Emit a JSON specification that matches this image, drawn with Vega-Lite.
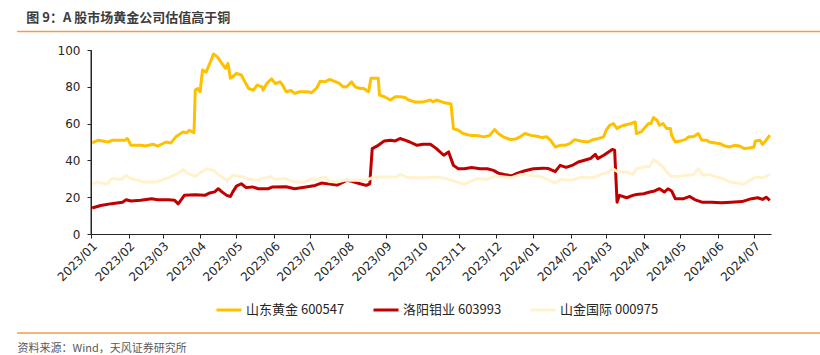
{
  "$schema": "https://vega.github.io/schema/vega-lite/v6.json",
  "width": 680,
  "height": 184,
  "autosize": {"type": "none"},
  "padding": {"left": 91, "top": 50, "right": 49, "bottom": 121},
  "background": "white",
  "title": {
    "text": "图 9：A 股市场黄金公司估值高于铜",
    "anchor": "start",
    "frame": "bounds",
    "dx": 10,
    "offset": 6,
    "font": "Noto Sans CJK SC",
    "fontSize": 13,
    "fontWeight": "bold",
    "color": "#3c3c3c"
  },
  "config": {
    "view": {"stroke": null},
    "axis": {"grid": false},
    "axisY": {"domain": true, "ticks": true, "domainColor": "#262626", "tickColor": "#262626", "domainWidth": 1, "tickWidth": 1, "domainOpacity": 1, "tickOpacity": 1, "zindex": 1}
  },
  "resolve": {
    "scale": {"x": "independent", "y": "independent"},
    "axis": {"x": "independent", "y": "independent"}
  },
  "layer": [
    {
      "data": {
        "values": [
          {"d":"2023-01-02","s":"山东黄金 600547","v":49.5},
          {"d":"2023-01-07","s":"山东黄金 600547","v":51},
          {"d":"2023-01-15","s":"山东黄金 600547","v":50},
          {"d":"2023-01-19","s":"山东黄金 600547","v":51},
          {"d":"2023-01-29","s":"山东黄金 600547","v":51},
          {"d":"2023-01-31","s":"山东黄金 600547","v":51.9},
          {"d":"2023-02-03","s":"山东黄金 600547","v":48.2},
          {"d":"2023-02-11","s":"山东黄金 600547","v":48.2},
          {"d":"2023-02-15","s":"山东黄金 600547","v":47.8},
          {"d":"2023-02-21","s":"山东黄金 600547","v":48.8},
          {"d":"2023-02-25","s":"山东黄金 600547","v":47.8},
          {"d":"2023-03-04","s":"山东黄金 600547","v":50},
          {"d":"2023-03-08","s":"山东黄金 600547","v":49.5},
          {"d":"2023-03-12","s":"山东黄金 600547","v":52.8},
          {"d":"2023-03-18","s":"山东黄金 600547","v":55.5},
          {"d":"2023-03-21","s":"山东黄金 600547","v":55},
          {"d":"2023-03-23","s":"山东黄金 600547","v":56.4},
          {"d":"2023-03-27","s":"山东黄金 600547","v":55},
          {"d":"2023-03-28","s":"山东黄金 600547","v":78.2},
          {"d":"2023-03-30","s":"山东黄金 600547","v":79},
          {"d":"2023-04-01","s":"山东黄金 600547","v":77.3},
          {"d":"2023-04-03","s":"山东黄金 600547","v":89.1},
          {"d":"2023-04-06","s":"山东黄金 600547","v":88},
          {"d":"2023-04-09","s":"山东黄金 600547","v":92.7},
          {"d":"2023-04-12","s":"山东黄金 600547","v":97.8},
          {"d":"2023-04-15","s":"山东黄金 600547","v":96.4},
          {"d":"2023-04-20","s":"山东黄金 600547","v":91.8},
          {"d":"2023-04-22","s":"山东黄金 600547","v":90},
          {"d":"2023-04-24","s":"山东黄金 600547","v":92.7},
          {"d":"2023-04-26","s":"山东黄金 600547","v":84.6},
          {"d":"2023-04-28","s":"山东黄金 600547","v":85.5},
          {"d":"2023-05-01","s":"山东黄金 600547","v":87.3},
          {"d":"2023-05-05","s":"山东黄金 600547","v":86.4},
          {"d":"2023-05-08","s":"山东黄金 600547","v":82.7},
          {"d":"2023-05-11","s":"山东黄金 600547","v":79.1},
          {"d":"2023-05-15","s":"山东黄金 600547","v":78.2},
          {"d":"2023-05-18","s":"山东黄金 600547","v":80.9},
          {"d":"2023-05-22","s":"山东黄金 600547","v":80},
          {"d":"2023-05-23","s":"山东黄金 600547","v":78.2},
          {"d":"2023-05-26","s":"山东黄金 600547","v":81.8},
          {"d":"2023-05-30","s":"山东黄金 600547","v":84.3},
          {"d":"2023-06-02","s":"山东黄金 600547","v":81.8},
          {"d":"2023-06-06","s":"山东黄金 600547","v":82.7},
          {"d":"2023-06-08","s":"山东黄金 600547","v":81},
          {"d":"2023-06-11","s":"山东黄金 600547","v":77.3},
          {"d":"2023-06-15","s":"山东黄金 600547","v":78},
          {"d":"2023-06-18","s":"山东黄金 600547","v":76.4},
          {"d":"2023-06-22","s":"山东黄金 600547","v":77.3},
          {"d":"2023-06-29","s":"山东黄金 600547","v":77.3},
          {"d":"2023-07-02","s":"山东黄金 600547","v":76.8},
          {"d":"2023-07-06","s":"山东黄金 600547","v":79.1},
          {"d":"2023-07-09","s":"山东黄金 600547","v":83},
          {"d":"2023-07-13","s":"山东黄金 600547","v":82.7},
          {"d":"2023-07-17","s":"山东黄金 600547","v":84},
          {"d":"2023-07-21","s":"山东黄金 600547","v":83},
          {"d":"2023-07-25","s":"山东黄金 600547","v":81.8},
          {"d":"2023-07-28","s":"山东黄金 600547","v":80},
          {"d":"2023-07-31","s":"山东黄金 600547","v":80},
          {"d":"2023-08-04","s":"山东黄金 600547","v":82.7},
          {"d":"2023-08-07","s":"山东黄金 600547","v":80},
          {"d":"2023-08-11","s":"山东黄金 600547","v":79.1},
          {"d":"2023-08-14","s":"山东黄金 600547","v":79.1},
          {"d":"2023-08-18","s":"山东黄金 600547","v":77.3},
          {"d":"2023-08-20","s":"山东黄金 600547","v":84.6},
          {"d":"2023-08-26","s":"山东黄金 600547","v":84.6},
          {"d":"2023-08-27","s":"山东黄金 600547","v":75.5},
          {"d":"2023-08-31","s":"山东黄金 600547","v":74.6},
          {"d":"2023-09-05","s":"山东黄金 600547","v":72.8},
          {"d":"2023-09-09","s":"山东黄金 600547","v":74.6},
          {"d":"2023-09-13","s":"山东黄金 600547","v":74.6},
          {"d":"2023-09-17","s":"山东黄金 600547","v":74.2},
          {"d":"2023-09-20","s":"山东黄金 600547","v":72.8},
          {"d":"2023-09-25","s":"山东黄金 600547","v":71.8},
          {"d":"2023-10-02","s":"山东黄金 600547","v":71.8},
          {"d":"2023-10-08","s":"山东黄金 600547","v":72.8},
          {"d":"2023-10-10","s":"山东黄金 600547","v":71.8},
          {"d":"2023-10-13","s":"山东黄金 600547","v":72.8},
          {"d":"2023-10-20","s":"山东黄金 600547","v":71.3},
          {"d":"2023-10-25","s":"山东黄金 600547","v":70.7},
          {"d":"2023-10-27","s":"山东黄金 600547","v":57.3},
          {"d":"2023-10-31","s":"山东黄金 600547","v":56.4},
          {"d":"2023-11-04","s":"山东黄金 600547","v":54.6},
          {"d":"2023-11-10","s":"山东黄金 600547","v":53.6},
          {"d":"2023-11-15","s":"山东黄金 600547","v":53.6},
          {"d":"2023-11-21","s":"山东黄金 600547","v":52.8},
          {"d":"2023-11-26","s":"山东黄金 600547","v":53.6},
          {"d":"2023-11-30","s":"山东黄金 600547","v":56.8},
          {"d":"2023-12-03","s":"山东黄金 600547","v":54.6},
          {"d":"2023-12-07","s":"山东黄金 600547","v":52.8},
          {"d":"2023-12-13","s":"山东黄金 600547","v":51.3},
          {"d":"2023-12-18","s":"山东黄金 600547","v":51.8},
          {"d":"2023-12-21","s":"山东黄金 600547","v":52.8},
          {"d":"2023-12-25","s":"山东黄金 600547","v":54.6},
          {"d":"2023-12-30","s":"山东黄金 600547","v":53.6},
          {"d":"2024-01-04","s":"山东黄金 600547","v":53.1},
          {"d":"2024-01-08","s":"山东黄金 600547","v":52.4},
          {"d":"2024-01-12","s":"山东黄金 600547","v":52.8},
          {"d":"2024-01-15","s":"山东黄金 600547","v":51},
          {"d":"2024-01-19","s":"山东黄金 600547","v":47.3},
          {"d":"2024-01-23","s":"山东黄金 600547","v":48.2},
          {"d":"2024-01-27","s":"山东黄金 600547","v":48.2},
          {"d":"2024-01-31","s":"山东黄金 600547","v":49.1},
          {"d":"2024-02-04","s":"山东黄金 600547","v":51.3},
          {"d":"2024-02-10","s":"山东黄金 600547","v":50.4},
          {"d":"2024-02-15","s":"山东黄金 600547","v":50},
          {"d":"2024-02-19","s":"山东黄金 600547","v":51.3},
          {"d":"2024-02-23","s":"山东黄金 600547","v":51.8},
          {"d":"2024-02-28","s":"山东黄金 600547","v":52.8},
          {"d":"2024-03-01","s":"山东黄金 600547","v":56.4},
          {"d":"2024-03-04","s":"山东黄金 600547","v":59.1},
          {"d":"2024-03-07","s":"山东黄金 600547","v":60},
          {"d":"2024-03-10","s":"山东黄金 600547","v":57.3},
          {"d":"2024-03-12","s":"山东黄金 600547","v":58.2},
          {"d":"2024-03-16","s":"山东黄金 600547","v":59.1},
          {"d":"2024-03-21","s":"山东黄金 600547","v":60},
          {"d":"2024-03-25","s":"山东黄金 600547","v":60.9},
          {"d":"2024-03-26","s":"山东黄金 600547","v":54.6},
          {"d":"2024-03-30","s":"山东黄金 600547","v":55.5},
          {"d":"2024-04-02","s":"山东黄金 600547","v":57.9},
          {"d":"2024-04-05","s":"山东黄金 600547","v":60.1},
          {"d":"2024-04-07","s":"山东黄金 600547","v":60.1},
          {"d":"2024-04-09","s":"山东黄金 600547","v":63.3},
          {"d":"2024-04-12","s":"山东黄金 600547","v":61.8},
          {"d":"2024-04-14","s":"山东黄金 600547","v":59.1},
          {"d":"2024-04-17","s":"山东黄金 600547","v":60},
          {"d":"2024-04-20","s":"山东黄金 600547","v":57.3},
          {"d":"2024-04-23","s":"山东黄金 600547","v":57.3},
          {"d":"2024-04-24","s":"山东黄金 600547","v":53.7},
          {"d":"2024-04-27","s":"山东黄金 600547","v":50},
          {"d":"2024-05-01","s":"山东黄金 600547","v":50.5},
          {"d":"2024-05-05","s":"山东黄金 600547","v":51.3},
          {"d":"2024-05-08","s":"山东黄金 600547","v":52.8},
          {"d":"2024-05-12","s":"山东黄金 600547","v":52.8},
          {"d":"2024-05-16","s":"山东黄金 600547","v":54.6},
          {"d":"2024-05-19","s":"山东黄金 600547","v":51},
          {"d":"2024-05-23","s":"山东黄金 600547","v":51},
          {"d":"2024-05-25","s":"山东黄金 600547","v":50},
          {"d":"2024-05-30","s":"山东黄金 600547","v":49.5},
          {"d":"2024-06-03","s":"山东黄金 600547","v":49.1},
          {"d":"2024-06-07","s":"山东黄金 600547","v":47.8},
          {"d":"2024-06-11","s":"山东黄金 600547","v":47.3},
          {"d":"2024-06-15","s":"山东黄金 600547","v":48.2},
          {"d":"2024-06-19","s":"山东黄金 600547","v":47.8},
          {"d":"2024-06-23","s":"山东黄金 600547","v":46.4},
          {"d":"2024-06-28","s":"山东黄金 600547","v":46.9},
          {"d":"2024-07-01","s":"山东黄金 600547","v":47.3},
          {"d":"2024-07-02","s":"山东黄金 600547","v":50.6},
          {"d":"2024-07-06","s":"山东黄金 600547","v":51},
          {"d":"2024-07-08","s":"山东黄金 600547","v":48.7},
          {"d":"2024-07-11","s":"山东黄金 600547","v":51},
          {"d":"2024-07-14","s":"山东黄金 600547","v":53.7},

          {"d":"2023-01-02","s":"洛阳钼业 603993","v":14.1},
          {"d":"2023-01-09","s":"洛阳钼业 603993","v":15.5},
          {"d":"2023-01-18","s":"洛阳钼业 603993","v":16.5},
          {"d":"2023-01-27","s":"洛阳钼业 603993","v":17.3},
          {"d":"2023-01-30","s":"洛阳钼业 603993","v":18.6},
          {"d":"2023-02-03","s":"洛阳钼业 603993","v":17.9},
          {"d":"2023-02-11","s":"洛阳钼业 603993","v":18.3},
          {"d":"2023-02-20","s":"洛阳钼业 603993","v":19.2},
          {"d":"2023-02-25","s":"洛阳钼业 603993","v":18.6},
          {"d":"2023-03-06","s":"洛阳钼业 603993","v":18.6},
          {"d":"2023-03-11","s":"洛阳钼业 603993","v":18.3},
          {"d":"2023-03-14","s":"洛阳钼业 603993","v":16.4},
          {"d":"2023-03-19","s":"洛阳钼业 603993","v":21},
          {"d":"2023-03-28","s":"洛阳钼业 603993","v":21.3},
          {"d":"2023-04-05","s":"洛阳钼业 603993","v":21},
          {"d":"2023-04-09","s":"洛阳钼业 603993","v":22.3},
          {"d":"2023-04-13","s":"洛阳钼业 603993","v":22.9},
          {"d":"2023-04-16","s":"洛阳钼业 603993","v":24.6},
          {"d":"2023-04-19","s":"洛阳钼业 603993","v":22.9},
          {"d":"2023-04-23","s":"洛阳钼业 603993","v":21},
          {"d":"2023-04-26","s":"洛阳钼业 603993","v":20.4},
          {"d":"2023-04-28","s":"洛阳钼业 603993","v":22.9},
          {"d":"2023-05-01","s":"洛阳钼业 603993","v":26},
          {"d":"2023-05-05","s":"洛阳钼业 603993","v":27.3},
          {"d":"2023-05-09","s":"洛阳钼业 603993","v":25.2},
          {"d":"2023-05-14","s":"洛阳钼业 603993","v":25.6},
          {"d":"2023-05-19","s":"洛阳钼业 603993","v":24.6},
          {"d":"2023-05-27","s":"洛阳钼业 603993","v":24.6},
          {"d":"2023-05-31","s":"洛阳钼业 603993","v":25.6},
          {"d":"2023-06-11","s":"洛阳钼业 603993","v":25.7},
          {"d":"2023-06-18","s":"洛阳钼业 603993","v":24.6},
          {"d":"2023-06-26","s":"洛阳钼业 603993","v":25.4},
          {"d":"2023-07-05","s":"洛阳钼业 603993","v":26.4},
          {"d":"2023-07-10","s":"洛阳钼业 603993","v":27.7},
          {"d":"2023-07-17","s":"洛阳钼业 603993","v":27.1},
          {"d":"2023-07-23","s":"洛阳钼业 603993","v":26.6},
          {"d":"2023-07-28","s":"洛阳钼业 603993","v":28.2},
          {"d":"2023-07-31","s":"洛阳钼业 603993","v":29.2},
          {"d":"2023-08-04","s":"洛阳钼业 603993","v":28.7},
          {"d":"2023-08-11","s":"洛阳钼业 603993","v":27.3},
          {"d":"2023-08-16","s":"洛阳钼业 603993","v":26.4},
          {"d":"2023-08-19","s":"洛阳钼业 603993","v":27.3},
          {"d":"2023-08-21","s":"洛阳钼业 603993","v":46.4},
          {"d":"2023-08-26","s":"洛阳钼业 603993","v":48.2},
          {"d":"2023-08-31","s":"洛阳钼业 603993","v":50.6},
          {"d":"2023-09-05","s":"洛阳钼业 603993","v":51},
          {"d":"2023-09-09","s":"洛阳钼业 603993","v":50.6},
          {"d":"2023-09-13","s":"洛阳钼业 603993","v":51.9},
          {"d":"2023-09-17","s":"洛阳钼业 603993","v":51},
          {"d":"2023-09-21","s":"洛阳钼业 603993","v":50},
          {"d":"2023-09-27","s":"洛阳钼业 603993","v":48.2},
          {"d":"2023-10-02","s":"洛阳钼业 603993","v":48.8},
          {"d":"2023-10-08","s":"洛阳钼业 603993","v":48.8},
          {"d":"2023-10-13","s":"洛阳钼业 603993","v":46.4},
          {"d":"2023-10-19","s":"洛阳钼业 603993","v":42.8},
          {"d":"2023-10-23","s":"洛阳钼业 603993","v":44.6},
          {"d":"2023-10-27","s":"洛阳钼业 603993","v":37.3},
          {"d":"2023-10-31","s":"洛阳钼业 603993","v":35.5},
          {"d":"2023-11-05","s":"洛阳钼业 603993","v":35.5},
          {"d":"2023-11-11","s":"洛阳钼业 603993","v":36.1},
          {"d":"2023-11-18","s":"洛阳钼业 603993","v":35.5},
          {"d":"2023-11-24","s":"洛阳钼业 603993","v":35.5},
          {"d":"2023-11-29","s":"洛阳钼业 603993","v":34.6},
          {"d":"2023-12-03","s":"洛阳钼业 603993","v":33.1},
          {"d":"2023-12-08","s":"洛阳钼业 603993","v":32.3},
          {"d":"2023-12-14","s":"洛阳钼业 603993","v":31.6},
          {"d":"2023-12-19","s":"洛阳钼业 603993","v":33.1},
          {"d":"2023-12-25","s":"洛阳钼业 603993","v":34.4},
          {"d":"2024-01-01","s":"洛阳钼业 603993","v":35.5},
          {"d":"2024-01-09","s":"洛阳钼业 603993","v":35.8},
          {"d":"2024-01-13","s":"洛阳钼业 603993","v":35.6},
          {"d":"2024-01-19","s":"洛阳钼业 603993","v":33.9},
          {"d":"2024-01-23","s":"洛阳钼业 603993","v":37.3},
          {"d":"2024-01-28","s":"洛阳钼业 603993","v":36.2},
          {"d":"2024-02-03","s":"洛阳钼业 603993","v":37.6},
          {"d":"2024-02-07","s":"洛阳钼业 603993","v":39.1},
          {"d":"2024-02-10","s":"洛阳钼业 603993","v":39.7},
          {"d":"2024-02-17","s":"洛阳钼业 603993","v":41},
          {"d":"2024-02-21","s":"洛阳钼业 603993","v":43.3},
          {"d":"2024-02-23","s":"洛阳钼业 603993","v":41},
          {"d":"2024-02-28","s":"洛阳钼业 603993","v":42.8},
          {"d":"2024-03-03","s":"洛阳钼业 603993","v":44.6},
          {"d":"2024-03-06","s":"洛阳钼业 603993","v":45.9},
          {"d":"2024-03-08","s":"洛阳钼业 603993","v":45.5},
          {"d":"2024-03-10","s":"洛阳钼业 603993","v":17.3},
          {"d":"2024-03-12","s":"洛阳钼业 603993","v":21},
          {"d":"2024-03-18","s":"洛阳钼业 603993","v":19.7},
          {"d":"2024-03-23","s":"洛阳钼业 603993","v":21},
          {"d":"2024-03-26","s":"洛阳钼业 603993","v":21.5},
          {"d":"2024-04-01","s":"洛阳钼业 603993","v":21.9},
          {"d":"2024-04-06","s":"洛阳钼业 603993","v":22.8},
          {"d":"2024-04-10","s":"洛阳钼业 603993","v":23.4},
          {"d":"2024-04-14","s":"洛阳钼业 603993","v":24.6},
          {"d":"2024-04-18","s":"洛阳钼业 603993","v":22.8},
          {"d":"2024-04-21","s":"洛阳钼业 603993","v":24.6},
          {"d":"2024-04-24","s":"洛阳钼业 603993","v":23.4},
          {"d":"2024-04-27","s":"洛阳钼业 603993","v":19.2},
          {"d":"2024-05-04","s":"洛阳钼业 603993","v":19.2},
          {"d":"2024-05-09","s":"洛阳钼业 603993","v":20.4},
          {"d":"2024-05-13","s":"洛阳钼业 603993","v":18.7},
          {"d":"2024-05-19","s":"洛阳钼业 603993","v":17.3},
          {"d":"2024-05-27","s":"洛阳钼业 603993","v":17.3},
          {"d":"2024-06-04","s":"洛阳钼业 603993","v":17},
          {"d":"2024-06-12","s":"洛阳钼业 603993","v":17.3},
          {"d":"2024-06-21","s":"洛阳钼业 603993","v":17.6},
          {"d":"2024-06-29","s":"洛阳钼业 603993","v":19.2},
          {"d":"2024-07-04","s":"洛阳钼业 603993","v":19.7},
          {"d":"2024-07-08","s":"洛阳钼业 603993","v":18.8},
          {"d":"2024-07-11","s":"洛阳钼业 603993","v":20},
          {"d":"2024-07-14","s":"洛阳钼业 603993","v":18.3},

          {"d":"2023-01-02","s":"山金国际 000975","v":27.3},
          {"d":"2023-01-07","s":"山金国际 000975","v":28.2},
          {"d":"2023-01-14","s":"山金国际 000975","v":27},
          {"d":"2023-01-18","s":"山金国际 000975","v":30.1},
          {"d":"2023-01-26","s":"山金国际 000975","v":29.6},
          {"d":"2023-01-30","s":"山金国际 000975","v":31.9},
          {"d":"2023-02-03","s":"山金国际 000975","v":30.1},
          {"d":"2023-02-09","s":"山金国际 000975","v":29.2},
          {"d":"2023-02-14","s":"山金国际 000975","v":28.2},
          {"d":"2023-02-23","s":"山金国际 000975","v":28.2},
          {"d":"2023-02-28","s":"山金国际 000975","v":29.2},
          {"d":"2023-03-06","s":"山金国际 000975","v":30.6},
          {"d":"2023-03-10","s":"山金国际 000975","v":31.9},
          {"d":"2023-03-14","s":"山金国际 000975","v":32.8},
          {"d":"2023-03-18","s":"山金国际 000975","v":35},
          {"d":"2023-03-22","s":"山金国际 000975","v":32.8},
          {"d":"2023-03-28","s":"山金国际 000975","v":31.3},
          {"d":"2023-04-02","s":"山金国际 000975","v":33.7},
          {"d":"2023-04-07","s":"山金国际 000975","v":35.5},
          {"d":"2023-04-12","s":"山金国际 000975","v":34.6},
          {"d":"2023-04-17","s":"山金国际 000975","v":31.9},
          {"d":"2023-04-23","s":"山金国际 000975","v":29.2},
          {"d":"2023-04-28","s":"山金国际 000975","v":31.9},
          {"d":"2023-05-05","s":"山金国际 000975","v":31.3},
          {"d":"2023-05-12","s":"山金国际 000975","v":29.6},
          {"d":"2023-05-18","s":"山金国际 000975","v":29.2},
          {"d":"2023-05-22","s":"山金国际 000975","v":30.1},
          {"d":"2023-05-29","s":"山金国际 000975","v":31.2},
          {"d":"2023-06-02","s":"山金国际 000975","v":29.6},
          {"d":"2023-06-10","s":"山金国际 000975","v":30.1},
          {"d":"2023-06-18","s":"山金国际 000975","v":28.2},
          {"d":"2023-06-26","s":"山金国际 000975","v":28},
          {"d":"2023-07-02","s":"山金国际 000975","v":30.1},
          {"d":"2023-07-06","s":"山金国际 000975","v":29.5},
          {"d":"2023-07-13","s":"山金国际 000975","v":31},
          {"d":"2023-07-17","s":"山金国际 000975","v":28.5},
          {"d":"2023-07-23","s":"山金国际 000975","v":28.2},
          {"d":"2023-07-29","s":"山金国际 000975","v":29.2},
          {"d":"2023-08-07","s":"山金国际 000975","v":29.2},
          {"d":"2023-08-16","s":"山金国际 000975","v":29.2},
          {"d":"2023-08-23","s":"山金国际 000975","v":31},
          {"d":"2023-09-05","s":"山金国际 000975","v":31},
          {"d":"2023-09-10","s":"山金国际 000975","v":31},
          {"d":"2023-09-13","s":"山金国际 000975","v":32.4},
          {"d":"2023-09-18","s":"山金国际 000975","v":31},
          {"d":"2023-09-27","s":"山金国际 000975","v":30.6},
          {"d":"2023-10-05","s":"山金国际 000975","v":30.6},
          {"d":"2023-10-13","s":"山金国际 000975","v":31},
          {"d":"2023-10-21","s":"山金国际 000975","v":30.1},
          {"d":"2023-10-30","s":"山金国际 000975","v":28.2},
          {"d":"2023-11-05","s":"山金国际 000975","v":27},
          {"d":"2023-11-11","s":"山金国际 000975","v":28.9},
          {"d":"2023-11-16","s":"山金国际 000975","v":30.1},
          {"d":"2023-11-23","s":"山金国际 000975","v":29.6},
          {"d":"2023-11-30","s":"山金国际 000975","v":31.2},
          {"d":"2023-12-07","s":"山金国际 000975","v":31},
          {"d":"2023-12-14","s":"山金国际 000975","v":30.6},
          {"d":"2023-12-22","s":"山金国际 000975","v":32.4},
          {"d":"2023-12-30","s":"山金国际 000975","v":31.9},
          {"d":"2024-01-08","s":"山金国际 000975","v":31},
          {"d":"2024-01-13","s":"山金国际 000975","v":29.6},
          {"d":"2024-01-19","s":"山金国际 000975","v":27.7},
          {"d":"2024-01-23","s":"山金国际 000975","v":29.6},
          {"d":"2024-02-01","s":"山金国际 000975","v":29.2},
          {"d":"2024-02-10","s":"山金国际 000975","v":31},
          {"d":"2024-02-18","s":"山金国际 000975","v":30.6},
          {"d":"2024-02-26","s":"山金国际 000975","v":32.4},
          {"d":"2024-03-03","s":"山金国际 000975","v":33.7},
          {"d":"2024-03-06","s":"山金国际 000975","v":35.5},
          {"d":"2024-03-11","s":"山金国际 000975","v":33.7},
          {"d":"2024-03-18","s":"山金国际 000975","v":33.7},
          {"d":"2024-03-23","s":"山金国际 000975","v":32.4},
          {"d":"2024-03-26","s":"山金国际 000975","v":35.5},
          {"d":"2024-04-01","s":"山金国际 000975","v":36.4},
          {"d":"2024-04-06","s":"山金国际 000975","v":36.8},
          {"d":"2024-04-09","s":"山金国际 000975","v":40.4},
          {"d":"2024-04-13","s":"山金国际 000975","v":38.6},
          {"d":"2024-04-17","s":"山金国际 000975","v":36.4},
          {"d":"2024-04-20","s":"山金国际 000975","v":33.7},
          {"d":"2024-04-23","s":"山金国际 000975","v":31.3},
          {"d":"2024-04-28","s":"山金国际 000975","v":31.3},
          {"d":"2024-05-06","s":"山金国际 000975","v":31.9},
          {"d":"2024-05-12","s":"山金国际 000975","v":32.2},
          {"d":"2024-05-16","s":"山金国际 000975","v":35.5},
          {"d":"2024-05-20","s":"山金国际 000975","v":31.9},
          {"d":"2024-05-25","s":"山金国际 000975","v":32.4},
          {"d":"2024-05-31","s":"山金国际 000975","v":31},
          {"d":"2024-06-05","s":"山金国际 000975","v":30.1},
          {"d":"2024-06-11","s":"山金国际 000975","v":28.2},
          {"d":"2024-06-17","s":"山金国际 000975","v":27.7},
          {"d":"2024-06-22","s":"山金国际 000975","v":27},
          {"d":"2024-06-28","s":"山金国际 000975","v":29.2},
          {"d":"2024-07-02","s":"山金国际 000975","v":31},
          {"d":"2024-07-07","s":"山金国际 000975","v":30.6},
          {"d":"2024-07-11","s":"山金国际 000975","v":31.3},
          {"d":"2024-07-14","s":"山金国际 000975","v":32.4}
        ]
      },
      "mark": {"type": "line", "strokeWidth": 3, "strokeJoin": "round"},
      "encoding": {
        "x": {
          "field": "d",
          "type": "temporal",
          "title": "资料来源：Wind，天风证券研究所",
          "scale": {"domain": [{"year": 2023, "month": 1, "date": 1}, {"year": 2024, "month": 7, "date": 15}], "nice": false},
          "axis": {
            "format": "%Y/%m",
            "tickCount": {"interval": "month", "step": 1},
            "labelAngle": -45,
            "labelFont": "DejaVu Sans",
            "labelFontSize": 12,
            "labelColor": "#262626",
            "labelOverlap": false,
            "labelPadding": 2,
            "tickSize": 4,
            "tickColor": "#262626",
            "domainColor": "#262626",
            "titleX": -74,
            "titleY": 114,
            "titleAlign": "left",
            "titleAnchor": "start",
            "titleBaseline": "middle",
            "titleFont": "Noto Sans CJK SC",
            "titleFontSize": 11,
            "titleFontWeight": "normal",
            "titleColor": "#595959"
          }
        },
        "y": {
          "field": "v",
          "type": "quantitative",
          "title": null,
          "scale": {"domain": [0, 100], "nice": false},
          "axis": {
            "values": [0, 20, 40, 60, 80, 100],
            "domain": true,
            "ticks": true,
            "zindex": 1,
            "labelOverlap": false,
            "labelFont": "DejaVu Sans",
            "labelFontSize": 12,
            "labelColor": "#262626",
            "labelPadding": 7,
            "tickSize": 4,
            "tickColor": "#262626",
            "domainColor": "#262626",
            "domainWidth": 1,
            "tickWidth": 1
          }
        },
        "color": {
          "field": "s",
          "type": "nominal",
          "scale": {
            "domain": ["山东黄金 600547", "洛阳钼业 603993", "山金国际 000975"],
            "range": ["#FFC000", "#C00000", "#FFF2CC"]
          },
          "legend": {
            "orient": "none",
            "legendX": 124,
            "legendY": 246,
            "direction": "horizontal",
            "columns": 3,
            "title": null,
            "padding": 0,
            "symbolType": "stroke",
            "symbolSize": 625,
            "symbolStrokeWidth": 3,
            "labelFont": "Noto Sans CJK SC",
            "labelFontSize": 13,
            "labelColor": "#262626",
            "labelOffset": 3,
            "columnPadding": 22
          }
        }
      }
    },
    {
      "data": {"values": [{}]},
      "mark": {"type": "rule", "color": "#262626", "strokeWidth": 1},
      "encoding": {
        "x": {"datum": {"year": 2023, "month": 1, "date": 1}, "type": "temporal", "axis": null, "scale": {"domain": [{"year": 2023, "month": 1, "date": 1}, {"year": 2024, "month": 7, "date": 15}], "nice": false}},
        "y": {"datum": 0, "type": "quantitative", "axis": null, "scale": {"domain": [0, 100], "nice": false}},
        "y2": {"datum": 100}
      }
    },
    {
      "data": {"values": [{}]},
      "mark": {"type": "rule", "color": "#F39C4A", "strokeWidth": 1.5},
      "encoding": {
        "x": {"datum": {"year": 2022, "month": 11, "date": 1}, "type": "temporal", "axis": null, "scale": {"domain": [{"year": 2023, "month": 1, "date": 1}, {"year": 2024, "month": 7, "date": 15}], "nice": false}},
        "x2": {"datum": {"year": 2024, "month": 8, "date": 25}},
        "y": {"datum": 110, "type": "quantitative", "axis": null, "scale": {"domain": [0, 100], "nice": false}}
      }
    },
    {
      "data": {"values": [{}]},
      "mark": {"type": "rule", "color": "#F39C4A", "strokeWidth": 1.5},
      "encoding": {
        "x": {"datum": {"year": 2022, "month": 11, "date": 1}, "type": "temporal", "axis": null, "scale": {"domain": [{"year": 2023, "month": 1, "date": 1}, {"year": 2024, "month": 7, "date": 15}], "nice": false}},
        "x2": {"datum": {"year": 2024, "month": 8, "date": 25}},
        "y": {"datum": -53.8, "type": "quantitative", "axis": null, "scale": {"domain": [0, 100], "nice": false}}
      }
    }
  ]
}
